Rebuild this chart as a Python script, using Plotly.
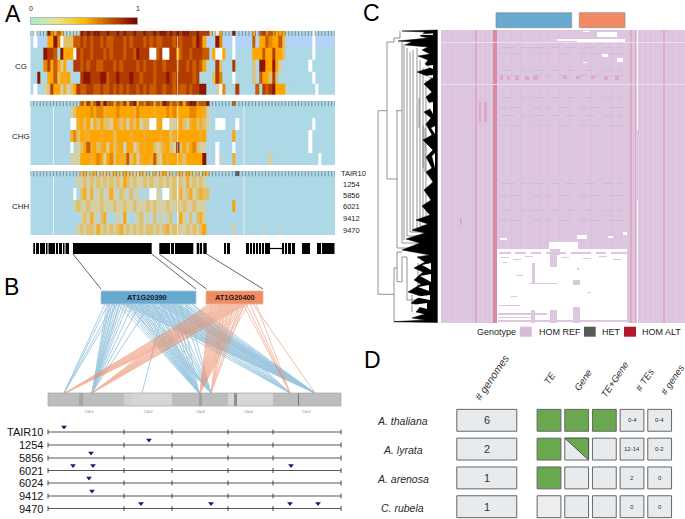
import numpy as np
import plotly.graph_objects as go

W, H = 685, 519
FONT = "Liberation Sans"

# ---------- Panel A data: one character per genomic bin ----------
HEAT_CODES = "0b123456789.g"
HEAT_COLORS = ["#add8e6", "#b3d3f8", "#bcd6d4", "#d4cfa4", "#e2c06c", "#f4ad2c", "#ffa500",
               "#e88800", "#c95c00", "#b23c00", "#8b1500", "#ffffff", "#59646a"]
samples = ["TAIR10", "1254", "5856", "6021", "9412", "9470"]

cg_rows = [
 "0.00 1 9 6 5 7 5 1 1 0 2 1 9898998898 8989889889 8898998989 89988988 8 3 2 . 5 000 9 00000 5 0 7 8 6 7 6 5 5 5 00000000 . 000000",
 "b.bbb 55 96 . 333 7787878878 7788878788 8787877888 787888798 5 bbb 96 bbb . bbbbb 7 b 55 76 55 73 1 bbbbbbb . bbbbbb",
 "0000 98 87 0 9 555 . 8788788878 7888788798 88 .. 78 .. 88 5 78878887 7 0 5 .. 5 00 . 00000 55 5 7 5 5 8 5 5 3 00000000 . 000000",
 "0000 6 8 5 7 5 2 5 00 8878788778 8878788887 8788788788 878878787 5 000 8 3 000 8 00000 3 0 99 55 9 5 2 00000000 . 000000 ",
 "00 9 00 55 7 3 5 4 5 000 8998889978 8988898878 8878889878 888878 0000 3 8 6 000 . 00000 3 0 7 5 5 3 8 3 0000000000 . 000000",
 "0 . 00 2 3 8 5 5 2 4 2 3 5 8778877877 8787878878 7877887887 877878899 000 2 . 6 000 8 00000 7 0 8 7 8 9 5 5 5 1 00000000 . 000000",
]
chg_rows = [
 "000000000000000 7585796977 5768589576 8757698676 858996779 0000000 7 000000000000000000000000000000",
 "000000000000 2 3 5555656645 5565555465 5554555656 555566554 2 00000000 0000000000000000000000000000000",
 "000000000000 .. 4 5 3 5 2 4 3 5 3 3 2 5 4 3 4 2 4 3 5 2 3 3 .. 45 .. 2 2 3 5 3 2 4 5 3 4 3 2 00 ... 000 . 0000000000000 000000000 . 0000",
 "000000000000 4 6 3 5445554555 3555545554 5555455345 55555545 00000000 5 0000000000000 000000000 . 0000",
 "000000000000 . 0 2 3 5 7 4 5 3 4 5 2 5 3 4 5 1 5 5 2 3 5 4 5 5 3 2 3 4 5 3 2 9 3 5 3 5 6 3 2 2 000 . 0000 . 0000000000000 000000000 . 0000",
 "000000000000 2 2 2 5554565256 3544735245 5473254555 435555 5 9 000 . 1 1 00 4 0000000000 2 00000000000000 . 0000",
]
chh_rows = [
 "00000000000000 1 3 4 2 3 4 2 3 2 3 2 4 3 2 5 3 3 2 2 4 2 3 1 4 2 3 5 2 3 1 3 4 2 5 3 2 3 1 4 3 00000000 g 000000000000000000000000000000",
 "00000000000000 2232323232 32325 32322 3232232323 232423232 00000000 0 000000000000000000000000000000",
 "0000000000000 . 0 3 4 2 4 1 2 3 1 2 4 2 1 3 2 1 3 1 2 0 1 0 .. 2 1 .. 2 3 2 4 2 3 4 2 3 4 3 3 00000000 0000000000000000000000000000000",
 "0000000000000 2 3 2 2 3 2 2 2 3 2 2 2 3 2 2 3 2 2 3 2 2 2 3 2 3 2 2 2 3 2 2 3 2 3 2 2 3 2 2 2 00000000 5 000000000000000000000000000000",
 "000000000000000 2 3 2 4 2 1 3 4 1 0 1 2 1 5 1 0 1 2 3 1 2 1 3 1 2 1 2 3 0 1 5 2 1 3 1 3 4 2 00000000 0 000000000000000000000000000000",
 "00000000000000 2 3 2 3 3 2 4 2 3 2 3 2 3 4 2 3 2 3 2 3 2 3 3 2 3 2 3 4 2 3 3 2 2 3 2 3 2 3 5 00000000 2 00000000 1 0000 1 000000000000000",
]
cg_gaps = [44.5]
chg_gaps = [7.0, 44.5, 64.5]
chh_gaps = [7.0, 44.5, 64.5]
row_edges = [0, 0.45, 1.45, 2.45, 3.45, 4.45, 5.45]
cbar_values = [v / 100 for v in range(101)]
CBAR_COLORS = [[0, "#9df0d0"], [0.25, "#e6e38c"], [0.5, "#ffba00"], [0.72, "#c85e00"], [1, "#7a0000"]]

# gene track (kb-like positions along panel A)
exons = [[33.3, 35], [36, 39], [40, 45], [46, 47.5], [48.5, 55], [56, 58], [59, 62], [63, 64.5], [65.5, 69],
         [73, 151.7], [159.3, 170], [171, 174], [175, 193.3], [196.7, 199.3], [200, 202], [203.3, 206.7],
         [224, 226], [227, 230], [246, 249], [250, 252], [253, 255], [256, 258], [259, 261], [262, 264], [265, 270],
         [282, 284], [285, 287], [288, 291], [292, 295], [302, 310], [317, 321], [322, 334.5]]
introns = [[270, 282]]

# ---------- Panel B data ----------
blue_links = {
    64: [105, 108, 113, 117],
    92: [107, 109, 110, 112, 114, 115, 117, 119, 120, 122, 125, 128, 133, 140, 150],
    142: [165],
    199: [118, 122, 125, 128, 130, 133, 135, 138, 140, 143, 146, 149, 152, 155, 158, 163, 168, 174, 180],
    211: [126, 130, 134, 138, 142, 145, 152, 160, 166, 172, 180, 186],
    290: [130, 138, 145, 152, 160, 168, 175, 185, 192],
    315: [122, 125, 128, 131, 134, 137, 140, 143, 146, 149, 152, 155, 158, 160, 161, 163, 164, 166, 167, 169, 170,
          172, 173, 175, 176, 178, 179, 182, 185, 188, 192],
}
orange_links = {
    65: [212, 214, 217, 220, 223, 226, 229, 232, 235, 238, 241, 244, 246, 248],
    92: [208, 210, 214, 218, 221, 224, 227, 230, 233, 236, 239, 242, 244, 246],
    200: [210, 212, 214, 216, 218, 220, 222, 224, 226, 228, 230, 232, 234, 236, 238, 240, 243, 245, 248],
    211: [222, 226, 230, 234, 240, 244],
    290: [243, 246, 250, 256],
    315: [253],
}
chrom_segments = [[48, 79, "#bdbdbd"], [79, 83, "#a6a6a6"], [83, 124, "#bdbdbd"], [124, 132, "#d0d0d0"],
                  [132, 172, "#d6d6d6"], [172, 199, "#bdbdbd"], [199, 202, "#a0a0a0"], [202, 228, "#bdbdbd"],
                  [228, 234, "#d6d6d6"], [234, 237, "#8f8f8f"], [237, 273, "#d6d6d6"], [273, 298, "#bdbdbd"],
                  [298, 299.5, "#777777"], [299.5, 341, "#bdbdbd"]]
chrom_names = ["Chr1", "Chr2", "Chr3", "Chr4", "Chr5"]
chrom_label_pos = [89, 148, 200, 248, 306]
chrom_ticks = [48, 124, 172, 228, 273, 341]
track_names = ["TAIR10", "1254", "5856", "6021", "6024", "9412", "9470"]
track_levels = [432, 445, 458, 470.5, 483, 496, 508.5]
track_inserts = [[64], [149], [91], [73, 93, 291], [89], [92], [141, 211, 290, 318]]

# ---------- Panel C data ----------
C_CELLS = 293, 244
C_COLORS = ["#ffffff", "#ddc7e0", "#dfbfd9", "#dfa9c3", "#d98ba6", "#cdbcd4", "#ebdeed"]
stripe_strong = [52, 53, 54, 55]
stripe_mid = [34, 35, 189, 190, 194, 222, 223]
stripe_faint = [6, 11, 17, 25, 31, 39, 44, 47, 70, 79, 89, 99, 107, 118, 128, 140, 150, 160, 170, 180, 187, 192,
                199, 204, 209, 214, 219, 227, 231, 237, 241]
light_rows = [12, 54]
missing_blocks = [[56, 186, 219, 293], [108, 137, 212, 219], [59, 66, 208, 210], [136, 146, 205, 209],
                  [167, 172, 206, 208], [182, 186, 202, 205], [116, 136, 9, 11], [136, 184, 9, 12],
                  [156, 176, 2, 7], [142, 149, 1, 2], [176, 182, 28, 32], [161, 167, 24, 27], [142, 146, 32, 33],
                  [196, 197, 0, 100], [196, 197, 170, 293]]
present_blocks = [[91, 94, 233, 253], [109, 116, 219, 237], [109, 116, 280, 293], [132, 139, 250, 255],
                  [132, 139, 277, 293], [136, 138, 238, 240], [58, 70, 222, 224], [74, 85, 222, 224],
                  [90, 100, 222, 224], [105, 125, 222, 224], [130, 150, 222, 224], [155, 165, 222, 224],
                  [170, 186, 222, 224], [89, 116, 253, 254], [57, 79, 275, 276], [57, 106, 283, 285],
                  [57, 90, 287, 288], [57, 186, 290, 292], [90, 94, 280, 293], [116, 119, 219, 225],
                  [62, 66, 232, 233], [75, 82, 245, 246], [146, 150, 262, 263], [70, 76, 266, 267],
                  [60, 68, 227, 228], [72, 80, 229, 230], [84, 92, 226, 227], [120, 128, 227, 228],
                  [142, 150, 228, 229], [158, 166, 226, 227], [172, 180, 229, 230]]
het_rows_a = [17, 40, 67, 85, 153, 180]
het_rows_b = [23, 45, 77, 95, 165, 190]
het_dash_a = [[60, 74], [79, 85], [89, 104], [111, 119], [124, 134], [144, 154], [162, 172], [176, 182]]
het_dash_b = [[58, 66], [70, 78], [92, 100], [106, 110], [118, 128], [138, 146], [150, 158], [168, 184]]
alt_blocks = [[59, 62, 46, 50], [66, 69, 46, 50], [74, 78, 46, 50], [84, 88, 46, 50], [92, 97, 46, 50],
              [122, 126, 46, 49], [135, 139, 46, 49], [150, 154, 46, 49], [163, 167, 46, 50], [174, 178, 46, 50],
              [38, 40, 72, 92], [43, 46, 72, 92], [19, 21, 188, 195]]

dend_lines = [
    [378, 378, 110.7, 294.3], [378, 387, 110.7, 110.7], [387, 387, 42, 179], [387, 394, 42, 42], [394, 394, 38, 42],
    [394, 400, 38, 38], [400, 400, 31, 38], [387, 397, 179, 179], [396, 402, 110.7, 110.7], [397, 397, 110.7, 248],
    [402, 402, 42, 243], [404, 404, 44, 240], [407, 407, 48, 236], [410, 410, 52, 232], [413, 413, 50, 231],
    [417, 417, 48, 228], [420, 420, 60, 226], [423, 423, 68, 222], [426, 426, 80, 218], [419, 419, 98, 128],
    [423, 423, 125, 168], [425, 425, 128, 172], [397, 437, 248, 248], [402, 437, 243, 243], [407, 437, 236, 236],
    [410, 437, 232, 232], [413, 437, 231, 231], [417, 437, 228, 228], [420, 437, 226, 226], [423, 437, 222, 222],
    [378, 394, 294.3, 294.3], [394, 394, 268, 321.7], [394, 397, 268, 268], [397, 397, 252, 281.7],
    [397, 402, 252, 252], [397, 402, 281.7, 281.7], [402, 402, 257, 281.7], [402, 407, 257, 257],
    [407, 407, 257, 300], [407, 437, 300, 300], [394, 437, 321.7, 321.7], [412, 412, 295, 312], [418, 418, 263, 296],
]
dend_black_x = [402, 425, 420, 428, 398, 412, 405, 428, 422, 430, 418, 428, 425, 430, 417, 432, 424, 432, 426, 432, 424,
                431, 426, 432, 423, 433, 426, 432, 426, 433, 424, 431, 422, 430, 416, 428, 412, 425, 406, 420, 402, 430,
                417, 425, 414, 423, 414, 421, 408, 421, 411, 421, 416, 425, 412, 425, 394, 437.4, 437.4, 402]
dend_black_y = [31, 32, 36, 38, 41, 42, 45, 47, 50, 54, 56, 60, 64, 68, 72, 78, 84, 92, 97, 108, 112, 118, 124, 135, 140,
                150, 157, 168, 172, 182, 190, 200, 206, 215, 220, 224, 230, 233, 239, 243, 250, 255, 257, 262, 268, 272,
                280, 284, 292, 296, 303, 306, 312, 314, 318, 320, 321.7, 322.5, 30, 31]
dend_white = [
    [[404, 433, 433], [34.5, 33.5, 35]], [[426, 433, 433], [66, 65, 69]],
    [[425, 433, 433], [76, 75, 78]], [[427, 433, 433], [103, 102, 114]], [[431, 435, 435], [128, 126, 134]],
    [[432, 435, 435], [156, 153, 168]], [[422, 431, 431], [265, 263, 270]], [[420, 431, 431], [276, 274, 282]],
    [[418, 429, 429], [287, 285, 291]], [[414, 430, 430], [297, 295, 300]], [[412, 427, 427], [305, 303, 309]],
]

# ---------- Panel D data ----------
species = ["A. thaliana", "A. lyrata", "A. arenosa", "C. rubela"]
n_genomes = [6, 2, 1, 1]
has_te = [1, 1, 1, 0]
has_gene = [1, 0.5, 0, 0]
has_te_gene = [1, 0, 0, 0]
n_tes = ["0-4", "12-14", "2", "0"]
n_genes = ["0-4", "0-2", "0", "0"]
d_headers = ["TE", "Gene", "TE+Gene", "# TEs", "# genes"]


def dx(a, b):
    return [a / W, b / W]


def dy(top, bottom):
    return [1 - bottom / H, 1 - top / H]


fig = go.Figure()
layout_axes = {}
shapes = []
anns = []


def axes(n, xd, yd, xr, yr):
    s = "" if n == 1 else str(n)
    layout_axes["xaxis" + s] = dict(domain=xd, range=xr, visible=False, fixedrange=True, anchor="y" + s)
    layout_axes["yaxis" + s] = dict(domain=yd, range=yr, visible=False, fixedrange=True, anchor="x" + s)
    return ("x" + s, "y" + s)


def text(x, y, t, size=8, color="#222222", anchor="center", angle=0, xref="x", yref="y"):
    anns.append(dict(x=x, y=y, text=t, xref=xref, yref=yref, showarrow=False, xanchor=anchor, yanchor="middle",
                     textangle=angle, font=dict(family=FONT, size=size, color=color)))


def rect(x0, x1, y0, y1, fill, line=None, lw=0, xref="x", yref="y"):
    shapes.append(dict(type="rect", x0=x0, x1=x1, y0=y0, y1=y1, xref=xref, yref=yref, fillcolor=fill,
                       line=dict(color=line or fill, width=lw), layer="above"))


def segs(pairs):
    xs, ys = [], []
    for x0, x1, y0, y1 in pairs:
        xs += [x0, x1, None]
        ys += [y0, y1, None]
    return xs, ys


def line_trace(xs, ys, color, width, opacity=1.0, ax=("x", "y")):
    fig.add_trace(go.Scatter(x=xs, y=ys, mode="lines", line=dict(color=color, width=width), opacity=opacity,
                             hoverinfo="skip", showlegend=False, xaxis=ax[0], yaxis=ax[1]))


axes(1, [0, 1], [0, 1], [0, W], [H, 0])

# ---- Panel C heatmap ----
grid = np.ones(C_CELLS, dtype=int)
for c in stripe_faint:
    grid[:, c] = 2
for c in stripe_mid:
    grid[:, c] = 3
for c in stripe_strong:
    grid[:, c] = 4
for r in light_rows:
    grid[r, :] = 6
for a, b, t, u in alt_blocks:
    grid[t:u, a:b] = 3
for r in het_rows_a:
    for a, b in het_dash_a:
        grid[r, a:b] = 5
for r in het_rows_b:
    for a, b in het_dash_b:
        grid[r, a:b] = 5
for a, b, t, u in missing_blocks:
    grid[t:u, a:b] = 0
for a, b, t, u in present_blocks:
    grid[t:u, a:b] = 1
nc = len(C_COLORS)
c_scale = []
for i, col in enumerate(C_COLORS):
    c_scale += [[i / nc, col], [(i + 1) / nc, col]]
fig.add_trace(go.Heatmap(z=(grid + 0.5).tolist(), x0=441.5, dx=1, y0=30.5, dy=1, zmin=0, zmax=nc, colorscale=c_scale,
                         showscale=False, hoverinfo="skip", xaxis="x", yaxis="y"))
# dendrogram
xs, ys = segs(dend_lines)
line_trace(xs, ys, "#777777", 0.8)
fig.add_trace(go.Scatter(x=dend_black_x, y=dend_black_y, mode="lines", fill="toself", fillcolor="#000000",
                         line=dict(color="#000000", width=0.5), hoverinfo="skip", showlegend=False))
wx, wy = [], []
for px_, py_ in dend_white:
    wx += px_ + [px_[0], None]
    wy += py_ + [py_[0], None]
fig.add_trace(go.Scatter(x=wx, y=wy, mode="lines", fill="toself", fillcolor="#ffffff",
                         line=dict(color="#ffffff", width=0), hoverinfo="skip", showlegend=False))

# ---- Panel B ----
for links, col in ((blue_links, "#5ea4cc"), (orange_links, "#ec8a64")):
    pairs = []
    for target, sources in links.items():
        pairs += [[s, target, 304, 393] for s in sources]
    xs, ys = segs(pairs)
    line_trace(xs, ys, col, 0.9, 0.6)
line_trace(*segs([[73, 101, 254, 289], [151.7, 196, 254, 289], [159.3, 206.5, 254, 289], [206.7, 263, 254, 289]]),
           "#222222", 0.7)
xs, ys = segs([[a, b, 248.5, 248.5] for a, b in exons])
line_trace(xs, ys, "#000000", 11)
xs, ys = segs([[a, b, 248.5, 248.5] for a, b in introns])
line_trace(xs, ys, "#000000", 1.2)
for seg in chrom_segments:
    rect(seg[0], seg[1], 393, 406, seg[2])
shapes.append(dict(type="rect", x0=48, x1=341, y0=393, y1=406, xref="x", yref="y", line=dict(color="#a8a8a8", width=0.7),
                   layer="above"))
for nm, p in zip(chrom_names, chrom_label_pos):
    text(p, 411, nm, size=4, color="#777777")
for nm, lev, ins in zip(track_names, track_levels, track_inserts):
    line_trace([48, 341], [lev, lev], "#444444", 0.9)
    fig.add_trace(go.Scatter(x=chrom_ticks, y=[lev] * len(chrom_ticks), mode="markers",
                             marker=dict(symbol="line-ns", size=3.5, line=dict(color="#333333", width=0.9)),
                             hoverinfo="skip", showlegend=False))
    fig.add_trace(go.Scatter(x=ins, y=[lev - 5] * len(ins), mode="markers",
                             marker=dict(symbol="triangle-down", size=5, color="#1a1a6e"),
                             hoverinfo="skip", showlegend=False))
    text(44.5, lev, nm, size=11, color="#111111", anchor="right")
rect(101, 196, 291, 304, "#68a9cf", "#a9c9dc", 0.8)
rect(206, 263, 291, 304, "#ef8a62", "#e3b8a6", 0.8)
text(147, 295.5 + 2.3, "<b>AT1G20390</b>", size=7.4, color="#14202a")
text(234.5, 295.5 + 2.3, "<b>AT1G20400</b>", size=7.4, color="#2a1710")

# ---- Panel C decoration ----
rect(496, 571.7, 12.7, 27.7, "#68a9cf", "#7d8f99", 0.7)
rect(579.3, 625, 12.7, 27.7, "#ef8a62", "#9c8b83", 0.7)
text(475, 331.7, "Genotype", size=9, anchor="left")
rect(520, 531.7, 326.7, 336.7, "#d7b9da")
text(537, 331.7, "HOM REF", size=9, anchor="left")
rect(584, 595.7, 326.7, 336.7, "#595959")
text(600, 331.7, "HET", size=9, anchor="left")
rect(624, 636, 326.7, 336.7, "#b2182b")
text(640, 331.7, "HOM ALT", size=9, anchor="left")

# ---- Panel letters ----
text(3, 13.5, "A", size=23, color="#000000", anchor="left")
text(2, 287, "B", size=23, color="#000000", anchor="left")
text(361, 12.5, "C", size=23, color="#000000", anchor="left")
text(362, 360, "D", size=23, color="#000000", anchor="left")

# ---- Panel A heatmaps ----
code_index = {c: i for i, c in enumerate(HEAT_CODES)}
nh = len(HEAT_COLORS)
h_scale = []
for i, col in enumerate(HEAT_COLORS):
    h_scale += [[i / nh, col], [(i + 1) / nh, col]]
NCOL = 92


def row_vals(s):
    s = s.replace(" ", "").ljust(NCOL, "0")[:NCOL]
    return [code_index[ch] + 0.5 for ch in s]


panels = [(2, cg_rows, cg_gaps, 30.7, 95), (3, chg_rows, chg_gaps, 101, 165), (4, chh_rows, chh_gaps, 171, 235.3)]
for n, rows, gaps, top, bottom in panels:
    ax = axes(n, dx(30.3, 335), dy(top, bottom), [0, NCOL], [5.45, 0])
    fig.add_trace(go.Heatmap(z=[row_vals(r) for r in rows], x=list(range(NCOL + 1)), y=row_edges, zmin=0, zmax=nh,
                             colorscale=h_scale, showscale=False, hoverinfo="skip", xaxis=ax[0], yaxis=ax[1]))
    gx, gy = segs([[c, c, 0, 0.45] for c in range(NCOL + 1)])
    line_trace(gx, gy, "#4f5f66", 0.7, 0.8, ax)
    gx, gy = segs([[c, c, 0.45, 5.45] for c in gaps])
    line_trace(gx, gy, "#ffffff", 0.8, 0.8, ax)
text(21, 66, "CG", size=8)
text(21, 136, "CHG", size=8)
text(21, 206, "CHH", size=8)
for nm, yy in zip(samples, [173, 184, 195, 206, 218, 230]):
    text(339 if nm == "TAIR10" else 341, yy, nm, size=7.5, anchor="left")

ax = axes(5, dx(30.5, 137.5), dy(17.5, 24.5), [0, 100], [0, 1])
fig.add_trace(go.Heatmap(z=[cbar_values], x0=0, dx=1, y=[0.5], zmin=0, zmax=1, colorscale=CBAR_COLORS, showscale=False,
                         hoverinfo="skip", xaxis=ax[0], yaxis=ax[1]))
shapes.append(dict(type="rect", x0=30.5, x1=137.5, y0=17.5, y1=24.5, xref="x", yref="y",
                   line=dict(color="#999999", width=0.7), layer="above"))
text(30.5, 8.5, "0", size=7)
text(137.5, 8.5, "1", size=7)

# ---- Panel D ----
axes(6, dx(452.2, 673.5), dy(405.9, 519), [-3.5, 4.5], [3.427, -0.5])
DX, DY = "x6", "y6"
BOX, EDGE, GREEN = "#e8ebee", "#666666", "#6aa84f"
HW, HH = 0.43, 0.38
for r, sp in enumerate(species):
    text(402.7, 420.7 + r * 29, "<i>%s</i>" % sp, size=10.5, color="#2a2a2a")
    rect(-2.25 - 1.084, -2.25 + 1.084, r - HH, r + HH, BOX, EDGE, 1, DX, DY)
    text(-2.25, r, str(n_genomes[r]), size=11, color="#333333", xref=DX, yref=DY)
    for c, flag in enumerate((has_te[r], has_gene[r], has_te_gene[r])):
        fill = GREEN if flag == 1 else ("#eeeeee" if (c == 0 and flag == 0) else BOX)
        rect(c - HW, c + HW, r - HH, r + HH, fill, EDGE, 1, DX, DY)
        if flag == 0.5:
            shapes.append(dict(type="path", xref=DX, yref=DY, layer="above", fillcolor=GREEN,
                               line=dict(color="#444444", width=0.8),
                               path="M %f,%f L %f,%f L %f,%f Z" % (c - HW, r - HH, c + HW, r - HH, c + HW, r + HH)))
    for c, vals in ((3, n_tes), (4, n_genes)):
        rect(c - HW, c + HW, r - HH, r + HH, BOX, EDGE, 1, DX, DY)
        text(c, r, vals[r], size=6, color="#333333", xref=DX, yref=DY)
text(491.7, 376.7, "<i># genomes</i>", size=10.5, color="#333333", angle=-56)
for hd, px_, py_ in zip(d_headers, [549, 582.3, 614.3, 644, 672.3], [378, 380, 379.3, 380, 379.3]):
    text(px_, py_, "<i>%s</i>" % hd, size=9.5, color="#333333", angle=-56)

fig.update_layout(width=W, height=H, margin=dict(l=0, r=0, t=0, b=0, pad=0), paper_bgcolor="white", plot_bgcolor="white",
                  showlegend=False, shapes=shapes, annotations=anns, font=dict(family=FONT), **layout_axes)
fig.write_html("out.html", config={"displayModeBar": False}, post_script="document.body.style.margin='0';")
